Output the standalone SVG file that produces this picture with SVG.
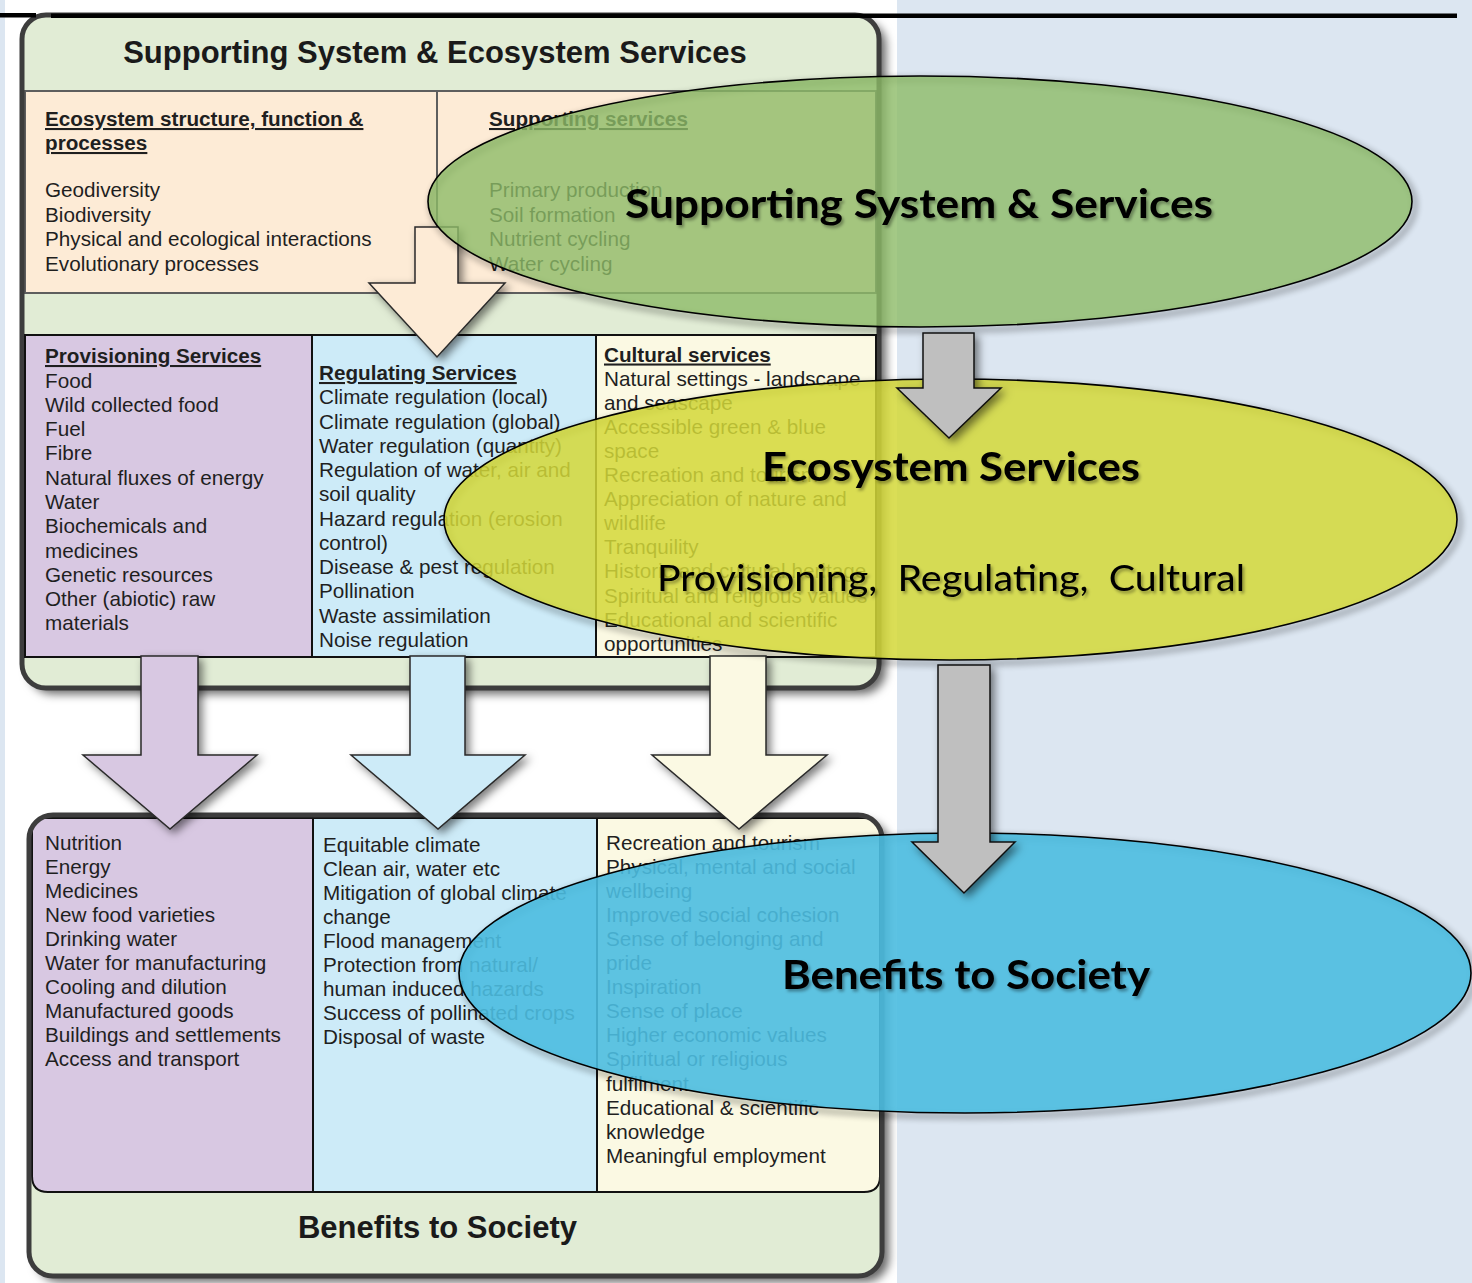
<svg xmlns="http://www.w3.org/2000/svg" width="1472" height="1283" viewBox="0 0 1472 1283">
  <defs>
    <style>
      .t { font-family: "Liberation Sans", Arial, sans-serif; font-size: 20.7px; fill: #1f1f1f; }
      .h { font-weight: bold; text-decoration: underline; }
      .title { font-family: "Liberation Sans", Arial, sans-serif; font-size: 31px; font-weight: bold; fill: #1a1a1a; text-anchor: middle; }
      .ov { font-family: Lato, "Open Sans", sans-serif; fill: #000; text-anchor: middle; filter: url(#txtShadow); }
      .ovb { font-weight: bold; font-size: 41px; }
      .ovr { font-weight: normal; font-size: 37px; }
      .frame { fill: none; stroke: #3d3d3d; stroke-width: 5; }
      .box { stroke: #111; stroke-width: 2; }
      .pbox { fill: #fdebd6; stroke: #5e5e5e; stroke-width: 2; }
      .arr { stroke: #2a2a2a; stroke-width: 1.5; stroke-linejoin: miter; filter: url(#arrowShadow); }
      .garr { fill: #bfbfbf; stroke: #111; stroke-width: 1.5; filter: url(#arrowShadow); }
      .ell { stroke: #000; stroke-width: 1.6; }
      .eshadow { fill: none; stroke: #000; stroke-width: 5; opacity: 0.3; filter: url(#blur3); }
    </style>
    <filter id="frameShadow" x="-5%" y="-5%" width="115%" height="115%">
      <feDropShadow dx="7" dy="6" stdDeviation="5" flood-color="#000" flood-opacity="0.6"/>
    </filter>
    <filter id="arrowShadow" x="-20%" y="-20%" width="150%" height="150%">
      <feDropShadow dx="4" dy="4" stdDeviation="4" flood-color="#000" flood-opacity="0.5"/>
    </filter>
    <filter id="txtShadow" x="-5%" y="-20%" width="115%" height="150%">
      <feDropShadow dx="2" dy="2.5" stdDeviation="1.5" flood-color="#000" flood-opacity="0.35"/>
    </filter>
    <filter id="blur3" x="-10%" y="-10%" width="120%" height="120%">
      <feGaussianBlur stdDeviation="3"/>
    </filter>
    <clipPath id="figClip"><rect x="5" y="0" width="892" height="1283"/></clipPath>
    <clipPath id="topClip"><rect x="22" y="15" width="857" height="673" rx="24"/></clipPath>
    <clipPath id="botClip"><rect x="29" y="815" width="853" height="461" rx="24"/></clipPath>
  </defs>

  <!-- slide background -->
  <rect width="1472" height="1283" fill="#dce6f1"/>

  <g clip-path="url(#figClip)">
    <rect x="5" y="0" width="892" height="1283" fill="#ffffff"/>

    <!-- upper panel: supporting system and ecosystem services -->
    <g id="supporting-panel">
      <rect x="22" y="15" width="857" height="673" rx="24" fill="#e1ecd5" filter="url(#frameShadow)"/>
      <g clip-path="url(#topClip)">
        <rect class="pbox" x="25" y="91" width="412" height="202"/>
        <rect class="pbox" x="437" y="91" width="439" height="202"/>
      </g>
      <rect class="frame" x="22" y="15" width="857" height="673" rx="24"/>
      <text class="title" x="435" y="63">Supporting System &amp; Ecosystem Services</text>
      <text class="t">
        <tspan class="h" x="45" y="126">Ecosystem structure, function &amp;</tspan>
        <tspan class="h" x="45" y="150">processes</tspan>
        <tspan x="45" y="197">Geodiversity</tspan>
        <tspan x="45" y="222">Biodiversity</tspan>
        <tspan x="45" y="246">Physical and ecological interactions</tspan>
        <tspan x="45" y="271">Evolutionary processes</tspan>
      </text>
      <text class="t">
        <tspan class="h" x="489" y="126">Supporting services</tspan>
        <tspan x="489" y="197">Primary production</tspan>
        <tspan x="489" y="222">Soil formation</tspan>
        <tspan x="489" y="246">Nutrient cycling</tspan>
        <tspan x="489" y="271">Water cycling</tspan>
      </text>
    </g>

    <g id="provisioning">
      <rect class="box" x="25" y="335" width="287" height="322" fill="#d8c8e2"/>
      <text class="t">
        <tspan class="h" x="45" y="363">Provisioning Services</tspan>
        <tspan x="45" y="388">Food</tspan>
        <tspan x="45" y="412">Wild collected food</tspan>
        <tspan x="45" y="436">Fuel</tspan>
        <tspan x="45" y="460">Fibre</tspan>
        <tspan x="45" y="485">Natural fluxes of energy</tspan>
        <tspan x="45" y="509">Water</tspan>
        <tspan x="45" y="533">Biochemicals and</tspan>
        <tspan x="45" y="558">medicines</tspan>
        <tspan x="45" y="582">Genetic resources</tspan>
        <tspan x="45" y="606">Other (abiotic) raw</tspan>
        <tspan x="45" y="630">materials</tspan>
      </text>
    </g>

    <g id="regulating">
      <rect class="box" x="312" y="335" width="284" height="322" fill="#cdebf8"/>
      <text class="t">
        <tspan class="h" x="319" y="380">Regulating Services</tspan>
        <tspan x="319" y="404">Climate regulation (local)</tspan>
        <tspan x="319" y="428.5">Climate regulation (global)</tspan>
        <tspan x="319" y="452.8">Water regulation (quantity)</tspan>
        <tspan x="319" y="477">Regulation of water, air and</tspan>
        <tspan x="319" y="501.3">soil quality</tspan>
        <tspan x="319" y="525.5">Hazard regulation (erosion</tspan>
        <tspan x="319" y="549.8">control)</tspan>
        <tspan x="319" y="574">Disease &amp; pest regulation</tspan>
        <tspan x="319" y="598.3">Pollination</tspan>
        <tspan x="319" y="622.5">Waste assimilation</tspan>
        <tspan x="319" y="646.8">Noise regulation</tspan>
      </text>
    </g>

    <g id="cultural">
      <rect class="box" x="596" y="335" width="280" height="322" fill="#fbf9e3"/>
      <text class="t">
        <tspan class="h" x="604" y="361.5">Cultural services</tspan>
        <tspan x="604" y="385.6">Natural settings - landscape</tspan>
        <tspan x="604" y="409.7">and seascape</tspan>
        <tspan x="604" y="433.8">Accessible green &amp; blue</tspan>
        <tspan x="604" y="457.9">space</tspan>
        <tspan x="604" y="482">Recreation and tourism</tspan>
        <tspan x="604" y="506.1">Appreciation of nature and</tspan>
        <tspan x="604" y="530.2">wildlife</tspan>
        <tspan x="604" y="554.3">Tranquility</tspan>
        <tspan x="604" y="578.4">Historic and cultural heritage</tspan>
        <tspan x="604" y="602.5">Spiritual and religious values</tspan>
        <tspan x="604" y="626.6">Educational and scientific</tspan>
        <tspan x="604" y="650.7">opportunities</tspan>
      </text>
    </g>

    <!-- lower panel: benefits to society -->
    <g id="benefits-panel">
      <rect x="29" y="815" width="853" height="461" rx="24" fill="#e1ecd5" filter="url(#frameShadow)"/>
      <g clip-path="url(#botClip)">
        <path class="box" d="M32,818 H313 V1192 H48 Q32,1192 32,1176 Z" fill="#d8c8e2"/>
        <rect class="box" x="313" y="818" width="284" height="374" fill="#cdebf8"/>
        <path class="box" d="M597,818 H864 Q880,818 880,834 V1176 Q880,1192 864,1192 H597 Z" fill="#fbf9e3"/>
      </g>
      <rect class="frame" x="29" y="815" width="853" height="461" rx="24"/>
      <text class="title" x="437.5" y="1238">Benefits to Society</text>
      <text class="t">
        <tspan x="45" y="850">Nutrition</tspan>
        <tspan x="45" y="874">Energy</tspan>
        <tspan x="45" y="898">Medicines</tspan>
        <tspan x="45" y="922">New food varieties</tspan>
        <tspan x="45" y="946">Drinking water</tspan>
        <tspan x="45" y="970">Water for manufacturing</tspan>
        <tspan x="45" y="994">Cooling and dilution</tspan>
        <tspan x="45" y="1018">Manufactured goods</tspan>
        <tspan x="45" y="1042">Buildings and settlements</tspan>
        <tspan x="45" y="1066">Access and transport</tspan>
      </text>
      <text class="t">
        <tspan x="323" y="852">Equitable climate</tspan>
        <tspan x="323" y="876">Clean air, water etc</tspan>
        <tspan x="323" y="900">Mitigation of global climate</tspan>
        <tspan x="323" y="924">change</tspan>
        <tspan x="323" y="948">Flood management</tspan>
        <tspan x="323" y="972">Protection from natural/</tspan>
        <tspan x="323" y="996">human induced hazards</tspan>
        <tspan x="323" y="1020">Success of pollinated crops</tspan>
        <tspan x="323" y="1044">Disposal of waste</tspan>
      </text>
      <text class="t">
        <tspan x="606" y="849.5">Recreation and tourism</tspan>
        <tspan x="606" y="873.6">Physical, mental and social</tspan>
        <tspan x="606" y="897.7">wellbeing</tspan>
        <tspan x="606" y="921.8">Improved social cohesion</tspan>
        <tspan x="606" y="945.9">Sense of belonging and</tspan>
        <tspan x="606" y="970">pride</tspan>
        <tspan x="606" y="994.1">Inspiration</tspan>
        <tspan x="606" y="1018.2">Sense of place</tspan>
        <tspan x="606" y="1042.3">Higher economic values</tspan>
        <tspan x="606" y="1066.4">Spiritual or religious</tspan>
        <tspan x="606" y="1090.5">fulfilment</tspan>
        <tspan x="606" y="1114.6">Educational &amp; scientific</tspan>
        <tspan x="606" y="1138.7">knowledge</tspan>
        <tspan x="606" y="1162.8">Meaningful employment</tspan>
      </text>
    </g>

    <!-- block arrows linking the panels -->
    <g id="connectors-figure">
      <polygon class="arr" fill="#fdebd6" points="415,227 458,227 458,283 505,283 437,357 369,283 415,283"/>
      <polygon class="arr" fill="#d8c8e2" points="141,656 198,656 198,755 257,755 170,829 83,755 141,755"/>
      <polygon class="arr" fill="#cdebf8" points="410,656 465,656 465,755 525,755 438,829 351,755 410,755"/>
      <polygon class="arr" fill="#fbf9e3" points="710,656 766,656 766,755 827,755 739,829 652,755 710,755"/>
    </g>
  </g>

  <!-- rule across the top -->
  <rect x="0" y="13" width="36" height="4.5" fill="#000"/>
  <rect x="51" y="13.5" width="1406" height="4.5" fill="#000"/>

  <!-- summary ellipses -->
  <g id="supporting-summary">
    <ellipse class="eshadow" cx="923" cy="205" rx="492" ry="125.5"/>
    <ellipse class="ell" cx="920" cy="201.5" rx="492" ry="125.5" fill="#8dbb68" fill-opacity="0.8"/>
    <text class="ov ovb" x="919" y="218" textLength="588" lengthAdjust="spacingAndGlyphs">Supporting System &amp; Services</text>
  </g>

  <g id="ecosystem-summary">
    <ellipse class="eshadow" cx="953.5" cy="523" rx="506.5" ry="140.5"/>
    <ellipse class="ell" cx="950.5" cy="519.5" rx="506.5" ry="140.5" fill="#d4d838" fill-opacity="0.85"/>
    <text class="ov ovb" x="951" y="481" textLength="378" lengthAdjust="spacingAndGlyphs">Ecosystem Services</text>
    <text class="ov ovr" x="951" y="591" textLength="588" lengthAdjust="spacingAndGlyphs" xml:space="preserve">Provisioning,  Regulating,  Cultural</text>
  </g>

  <g id="benefits-summary">
    <ellipse class="eshadow" cx="968" cy="976.5" rx="506" ry="140"/>
    <ellipse class="ell" cx="965" cy="973" rx="506" ry="140" fill="#4bbde0" fill-opacity="0.9"/>
    <text class="ov ovb" x="966" y="989" textLength="368" lengthAdjust="spacingAndGlyphs">Benefits to Society</text>
  </g>

  <g id="connectors">
    <polygon class="garr" points="923,333 974,333 974,388 1001,388 949,438 897,388 923,388"/>
    <polygon class="garr" points="938,665 990,665 990,842 1015,842 964,893 912,842 938,842"/>
  </g>
</svg>
